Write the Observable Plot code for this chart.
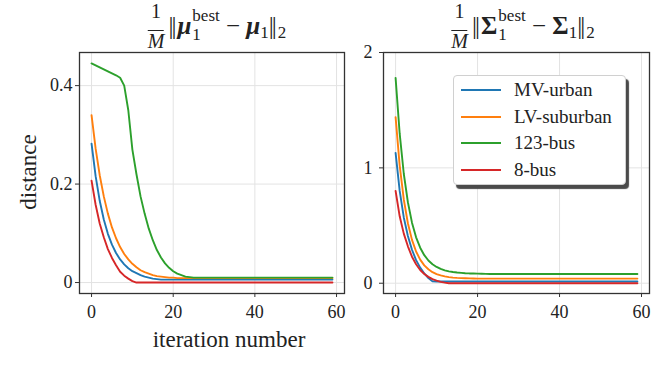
<!DOCTYPE html>
<html>
<head>
<meta charset="utf-8">
<script src="https://cdn.jsdelivr.net/npm/d3@7"></script>
<script src="https://cdn.jsdelivr.net/npm/@observablehq/plot@0.6"></script>
<style>
  html, body { margin: 0; padding: 0; background: #fff; }
  #chart { position: relative; width: 664px; height: 372px; overflow: hidden; background: #fff;
           font-family: "Liberation Serif", "DejaVu Serif", serif; color: #222; }
  #chart svg { position: absolute; top: 0; }
  #chart svg text { font-family: "Liberation Serif", "DejaVu Serif", serif; }
  .title { position: absolute; top: 1px; transform: translateX(-50%); white-space: nowrap;
           font-size: 25px; line-height: 1; }
  .frac { display: inline-flex; flex-direction: column; align-items: center; vertical-align: 16px;
          margin-right: 4px; font-size: 20px; }
  .frac .num { border-bottom: 1.2px solid #222; padding: 0 3px 9px 3px; line-height: 1; }
  .frac .den { font-style: italic; line-height: 1; padding-top: 0; }
  .nrm { letter-spacing: -2px; margin-right: 3px; }
  .ss { display: inline-flex; flex-direction: column; vertical-align: 13px; font-size: 17px;
        line-height: 19px; margin-left: 1px; }
  .sub { font-size: 17px; vertical-align: -4px; }
  .bm { font-weight: bold; font-style: italic; }
  .bs { font-weight: bold; }
  .axlabel { position: absolute; font-size: 23px; white-space: nowrap; line-height: 1; }
  #legend { position: absolute; left: 453px; top: 75px; width: 173px; height: 110px; box-sizing: border-box;
            background: #fff; border: 1px solid #d0d0d0; border-radius: 4px;
            box-shadow: 3px 4px 1px #4a4a4a; font-size: 19px; }
  .lg-row { position: absolute; left: 0; height: 20px; }
  .lg-sw { position: absolute; left: 7px; width: 40px; height: 0; border-top: 2.2px solid; top: 9px; }
  .lg-tx { position: absolute; left: 60px; top: 0; line-height: 20px; white-space: nowrap; }
</style>
</head>
<body>
<div id="chart"></div>
<script>
// ---------------- data ----------------
const seriesNames = ["MV-urban", "LV-suburban", "123-bus", "8-bus"];
const seriesColors = ["#1f77b4", "#ff7f0e", "#2ca02c", "#d62728"];
const xTicks = [0, 20, 40, 60];
const muYTicks = [0, 0.2, 0.4];
const sigmaYTicks = [0, 1, 2];

// left panel: (1/M)||mu_1^best - mu_1||_2, iterations 0..59
const mvUrbanMu = [
  0.282,0.216,0.166,0.128,0.099,0.077,0.060,0.047,0.037,0.029,
  0.023,0.019,0.015,0.012,0.010,0.008,0.007,0.006,0.006,0.006,
  0.006,0.006,0.006,0.006,0.006,0.006,0.006,0.006,0.006,0.006,
  0.006,0.006,0.006,0.006,0.006,0.006,0.006,0.006,0.006,0.006,
  0.006,0.006,0.006,0.006,0.006,0.006,0.006,0.006,0.006,0.006,
  0.006,0.006,0.006,0.006,0.006,0.006,0.006,0.006,0.006,0.006];
const lvSuburbanMu = [
  0.340,0.272,0.218,0.175,0.140,0.112,0.090,0.072,0.058,0.047,
  0.038,0.031,0.025,0.021,0.018,0.015,0.013,0.012,0.011,0.010,
  0.010,0.009,0.009,0.009,0.009,0.009,0.009,0.009,0.009,0.009,
  0.009,0.009,0.009,0.009,0.009,0.009,0.009,0.009,0.009,0.009,
  0.009,0.009,0.009,0.009,0.009,0.009,0.009,0.009,0.009,0.009,
  0.009,0.009,0.009,0.009,0.009,0.009,0.009,0.009,0.009,0.009];
const bus123Mu = [
  0.445,0.441,0.437,0.433,0.429,0.425,0.421,0.416,0.400,0.350,
  0.270,0.220,0.175,0.140,0.110,0.086,0.066,0.051,0.039,0.030,
  0.023,0.018,0.015,0.012,0.011,0.010,0.010,0.010,0.010,0.010,
  0.010,0.010,0.010,0.010,0.010,0.010,0.010,0.010,0.010,0.010,
  0.010,0.010,0.010,0.010,0.010,0.010,0.010,0.010,0.010,0.010,
  0.010,0.010,0.010,0.010,0.010,0.010,0.010,0.010,0.010,0.010];
const bus8Mu = [
  0.207,0.158,0.120,0.092,0.068,0.050,0.035,0.022,0.014,0.008,
  0.003,0.000,0.000,0.000,0.000,0.000,0.000,0.000,0.000,0.000,
  0.000,0.000,0.000,0.000,0.000,0.000,0.000,0.000,0.000,0.000,
  0.000,0.000,0.000,0.000,0.000,0.000,0.000,0.000,0.000,0.000,
  0.000,0.000,0.000,0.000,0.000,0.000,0.000,0.000,0.000,0.000,
  0.000,0.000,0.000,0.000,0.000,0.000,0.000,0.000,0.000,0.000];

// right panel: (1/M)||Sigma_1^best - Sigma_1||_2, iterations 0..59
const mvUrbanSigma = [
  1.130,0.800,0.570,0.410,0.290,0.200,0.135,0.085,0.045,0.016,
  0.015,0.015,0.015,0.015,0.015,0.015,0.015,0.015,0.015,0.015,
  0.015,0.015,0.015,0.015,0.015,0.015,0.015,0.015,0.015,0.015,
  0.015,0.015,0.015,0.015,0.015,0.015,0.015,0.015,0.015,0.015,
  0.015,0.015,0.015,0.015,0.015,0.015,0.015,0.015,0.015,0.015,
  0.015,0.015,0.015,0.015,0.015,0.015,0.015,0.015,0.015,0.015];
const lvSuburbanSigma = [
  1.440,1.020,0.726,0.520,0.376,0.275,0.205,0.155,0.121,0.096,
  0.079,0.068,0.059,0.053,0.049,0.046,0.044,0.043,0.042,0.041,
  0.040,0.040,0.040,0.040,0.040,0.040,0.040,0.040,0.040,0.040,
  0.040,0.040,0.040,0.040,0.040,0.040,0.040,0.040,0.040,0.040,
  0.040,0.040,0.040,0.040,0.040,0.040,0.040,0.040,0.040,0.040,
  0.040,0.040,0.040,0.040,0.040,0.040,0.040,0.040,0.040,0.040];
const bus123Sigma = [
  1.780,1.296,0.949,0.702,0.525,0.398,0.308,0.243,0.197,0.164,
  0.141,0.124,0.112,0.103,0.097,0.093,0.090,0.087,0.085,0.084,
  0.083,0.082,0.081,0.080,0.080,0.080,0.080,0.080,0.080,0.080,
  0.080,0.080,0.080,0.080,0.080,0.080,0.080,0.080,0.080,0.080,
  0.080,0.080,0.080,0.080,0.080,0.080,0.080,0.080,0.080,0.080,
  0.080,0.080,0.080,0.080,0.080,0.080,0.080,0.080,0.080,0.080];
const bus8Sigma = [
  0.800,0.580,0.430,0.320,0.230,0.165,0.115,0.080,0.055,0.036,
  0.022,0.012,0.005,0.000,0.000,0.000,0.000,0.000,0.000,0.000,
  0.000,0.000,0.000,0.000,0.000,0.000,0.000,0.000,0.000,0.000,
  0.000,0.000,0.000,0.000,0.000,0.000,0.000,0.000,0.000,0.000,
  0.000,0.000,0.000,0.000,0.000,0.000,0.000,0.000,0.000,0.000,
  0.000,0.000,0.000,0.000,0.000,0.000,0.000,0.000,0.000,0.000];

// ---------------- build tables ----------------
function toTable(arrays) {
  const rows = [];
  arrays.forEach((arr, k) => arr.forEach((v, i) => rows.push({series: seriesNames[k], iter: i, value: v})));
  return rows;
}
const muData = toTable([mvUrbanMu, lvSuburbanMu, bus123Mu, bus8Mu]);
const sigmaData = toTable([mvUrbanSigma, lvSuburbanSigma, bus123Sigma, bus8Sigma]);

const serif = '"Liberation Serif", "DejaVu Serif", serif';

function panel({data, yDomain, yTicks, width, marginLeft, marginRight, tickPaddingY}) {
  return Plot.plot({
    width, height: 372,
    marginLeft, marginRight, marginTop: 52, marginBottom: 79,
    style: {fontFamily: serif, fontSize: "18px", color: "#222",
            background: "transparent", overflow: "visible"},
    x: {domain: [-2.95, 61.95]},
    y: {domain: yDomain},
    color: {domain: seriesNames, range: seriesColors},
    marks: [
      Plot.gridX(xTicks, {stroke: "#e3e3e3", strokeOpacity: 1, strokeWidth: 1}),
      Plot.gridY(yTicks, {stroke: "#e3e3e3", strokeOpacity: 1, strokeWidth: 1}),
      Plot.line(data, {x: "iter", y: "value", z: "series", stroke: "series", strokeWidth: 1.9}),
      Plot.frame({stroke: "#333", strokeWidth: 1.3}),
      Plot.axisX(xTicks, {tickSize: 4, tickPadding: 8, label: null, stroke: "#333",
                          fontFamily: serif, fontSize: 18}),
      Plot.axisY(yTicks, {tickSize: 4, tickPadding: tickPaddingY, label: null, stroke: "#333",
                          fontFamily: serif, fontSize: 18, tickFormat: d => String(d)})
    ]
  });
}

const chart = document.getElementById("chart");
const left = panel({data: muData, yDomain: [-0.02225, 0.46725], yTicks: muYTicks,
                    width: 350, marginLeft: 79, marginRight: 6, tickPaddingY: 3});
left.style.left = "0px";
chart.appendChild(left);
const right = panel({data: sigmaData, yDomain: [-0.089, 2.0], yTicks: sigmaYTicks,
                     width: 314, marginLeft: 33, marginRight: 15, tickPaddingY: 7});
right.style.left = "350px";
chart.appendChild(right);

// titles (math-like text)
const t1 = document.createElement("div");
t1.className = "title";
t1.style.left = "217px";
t1.innerHTML = '<span class="frac"><span class="num">1</span><span class="den">M</span></span>' +
  '<span class="nrm">||</span><span class="bm">μ</span><span class="ss"><span>best</span><span>1</span></span>' +
  ' − <span class="bm">μ</span><span class="sub">1</span><span class="nrm">||</span><span class="sub">2</span>';
chart.appendChild(t1);

const t2 = document.createElement("div");
t2.className = "title";
t2.style.left = "523px";
t2.innerHTML = '<span class="frac"><span class="num">1</span><span class="den">M</span></span>' +
  '<span class="nrm">||</span><span class="bs">Σ</span><span class="ss"><span>best</span><span>1</span></span>' +
  ' − <span class="bs">Σ</span><span class="sub">1</span><span class="nrm">||</span><span class="sub">2</span>';
chart.appendChild(t2);

// axis labels
const yl = document.createElement("div");
yl.className = "axlabel";
yl.textContent = "distance";
yl.style.left = "28px"; yl.style.top = "172px";
yl.style.transform = "translate(-50%, -50%) rotate(-90deg)";
chart.appendChild(yl);

const xl = document.createElement("div");
xl.className = "axlabel";
xl.textContent = "iteration number";
xl.style.left = "229px"; xl.style.top = "328px";
xl.style.transform = "translateX(-50%)";
chart.appendChild(xl);

// legend
const lg = document.createElement("div");
lg.id = "legend";
const rowCenters = [14, 40.7, 67.3, 94];
seriesNames.forEach((name, k) => {
  const row = document.createElement("div");
  row.className = "lg-row";
  row.style.top = (rowCenters[k] - 10) + "px";
  row.innerHTML = '<div class="lg-sw" style="border-color:' + seriesColors[k] + '"></div>' +
                  '<div class="lg-tx">' + name + '</div>';
  lg.appendChild(row);
});
chart.appendChild(lg);
</script>
</body>
</html>
